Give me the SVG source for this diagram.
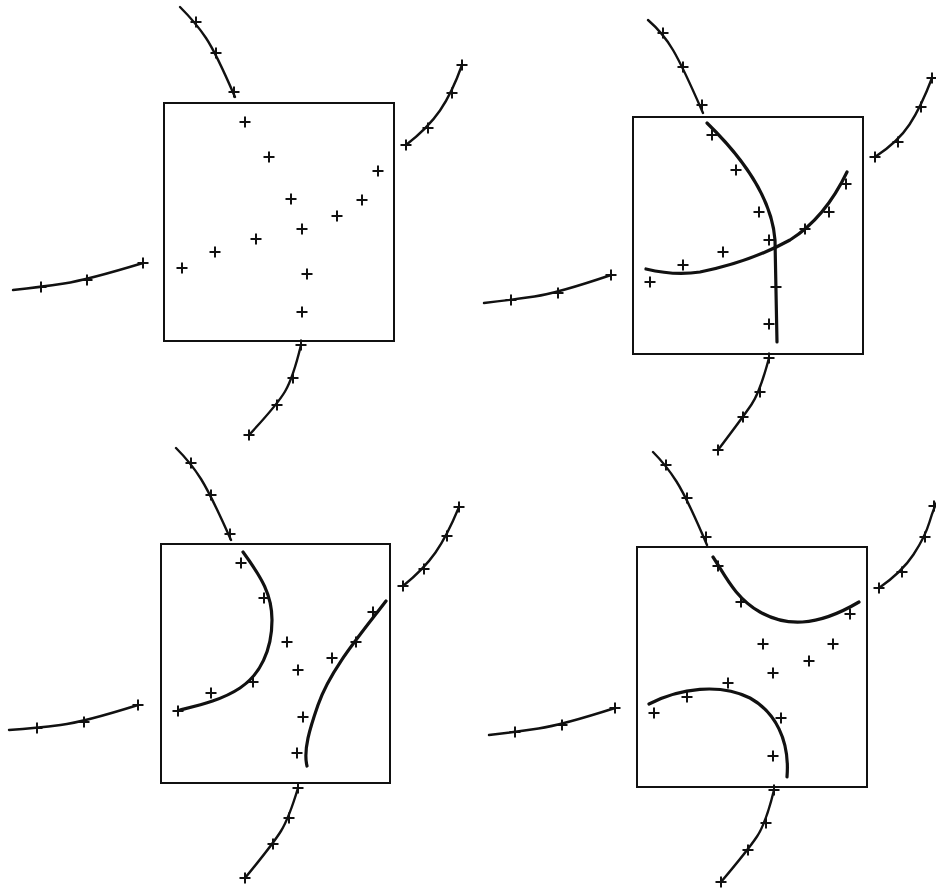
<svg xmlns="http://www.w3.org/2000/svg" xmlns:xlink="http://www.w3.org/1999/xlink" width="936" height="888" viewBox="0 0 936 888">
<style>
.box{fill:none;stroke:#111;stroke-width:2}
.ant{fill:none;stroke:#111;stroke-width:2.4;stroke-linecap:round}
.fit{fill:none;stroke:#111;stroke-width:3.2;stroke-linecap:round}
.pt{stroke:#111;stroke-width:2;fill:none}
</style>
<defs>
<path id="p" d="M-5.5,0H5.5M0,-5.5V5.5"/>
</defs>
<rect width="936" height="888" fill="#fff"/>
<g id="panel1">
<rect class="box" x="164" y="103" width="230" height="238"/>
<g id="panel1-lines">
<path class="ant" d="M180,7 Q196,23 206,38 Q216,53 235,97"/>
<path class="ant" d="M462,65 Q452,93 440,110.5 Q428,128 406,145"/>
<path class="ant" d="M13,290 Q41,287 64,283.5 Q87,280 143,263"/>
<path class="ant" d="M301,345 Q293,378 285,391.5 Q277,405 249,435"/>
</g>
<g class="pt">
<use xlink:href="#p" x="196" y="22"/><use xlink:href="#p" x="216" y="53"/><use xlink:href="#p" x="234" y="92"/>
<use xlink:href="#p" x="462" y="65"/><use xlink:href="#p" x="452" y="93"/><use xlink:href="#p" x="428" y="128"/><use xlink:href="#p" x="406" y="145"/>
<use xlink:href="#p" x="41" y="287"/><use xlink:href="#p" x="87" y="280"/><use xlink:href="#p" x="143" y="263"/>
<use xlink:href="#p" x="301" y="345"/><use xlink:href="#p" x="293" y="378"/><use xlink:href="#p" x="277" y="405"/><use xlink:href="#p" x="249" y="435"/>
<use xlink:href="#p" x="245" y="122"/><use xlink:href="#p" x="269" y="157"/><use xlink:href="#p" x="291" y="199"/><use xlink:href="#p" x="302" y="229"/>
<use xlink:href="#p" x="378" y="171"/><use xlink:href="#p" x="362" y="200"/><use xlink:href="#p" x="337" y="216"/><use xlink:href="#p" x="256" y="239"/>
<use xlink:href="#p" x="215" y="252"/><use xlink:href="#p" x="182" y="268"/><use xlink:href="#p" x="307" y="274"/><use xlink:href="#p" x="302" y="312"/>
</g>
</g>
<g id="panel2">
<rect class="box" x="633" y="117" width="230" height="237"/>
<g id="panel2-lines">
<path class="ant" d="M648,20 Q663,33 673,50 Q683,67 703,113"/>
<path class="ant" d="M932,78 Q921,107 909.5,124.5 Q898,142 875,157"/>
<path class="ant" d="M484,303 Q511,300 534.5,296.5 Q558,293 611,275"/>
<path class="ant" d="M769,358 Q760,392 751.5,404.5 Q743,417 718,450"/>
<path class="fit" d="M707,123 C745,160 772,200 775,240 L777,342"/>
<path class="fit" d="M646,269 Q675,276 700,272 Q750,262 790,240 Q825,218 847,172"/>
</g>
<g class="pt">
<use xlink:href="#p" x="663" y="33"/><use xlink:href="#p" x="683" y="67"/><use xlink:href="#p" x="702" y="105"/>
<use xlink:href="#p" x="932" y="78"/><use xlink:href="#p" x="921" y="107"/><use xlink:href="#p" x="898" y="142"/><use xlink:href="#p" x="875" y="157"/>
<use xlink:href="#p" x="511" y="300"/><use xlink:href="#p" x="558" y="293"/><use xlink:href="#p" x="611" y="275"/>
<use xlink:href="#p" x="769" y="358"/><use xlink:href="#p" x="760" y="392"/><use xlink:href="#p" x="743" y="417"/><use xlink:href="#p" x="718" y="450"/>
<use xlink:href="#p" x="712" y="135"/><use xlink:href="#p" x="736" y="170"/><use xlink:href="#p" x="759" y="212"/><use xlink:href="#p" x="769" y="240"/>
<use xlink:href="#p" x="723" y="252"/><use xlink:href="#p" x="683" y="265"/><use xlink:href="#p" x="650" y="282"/><use xlink:href="#p" x="805" y="229"/>
<use xlink:href="#p" x="829" y="212"/><use xlink:href="#p" x="846" y="184"/><use xlink:href="#p" x="776" y="287"/><use xlink:href="#p" x="769" y="324"/>
</g>
</g>
<g id="panel3">
<rect class="box" x="161" y="544" width="229" height="239"/>
<g id="panel3-lines">
<path class="ant" d="M176,448 Q191,463 201,479 Q211,495 231,540"/>
<path class="ant" d="M459,507 Q447,536 435.5,552.5 Q424,569 403,586"/>
<path class="ant" d="M9,730 Q37,728 60.5,725 Q84,722 138,705"/>
<path class="ant" d="M298,788 Q289,818 281,831 Q273,844 245,878"/>
<path class="fit" d="M243,552 C262,578 272,595 272,620 C272,650 260,675 240,688 C222,700 200,705 180,710"/>
<path class="fit" d="M386,601 C360,635 330,670 318,705 C310,728 303,750 307,766"/>
</g>
<g class="pt">
<use xlink:href="#p" x="191" y="463"/><use xlink:href="#p" x="211" y="495"/><use xlink:href="#p" x="230" y="534"/>
<use xlink:href="#p" x="459" y="507"/><use xlink:href="#p" x="447" y="536"/><use xlink:href="#p" x="424" y="569"/><use xlink:href="#p" x="403" y="586"/>
<use xlink:href="#p" x="37" y="728"/><use xlink:href="#p" x="84" y="722"/><use xlink:href="#p" x="138" y="705"/>
<use xlink:href="#p" x="298" y="788"/><use xlink:href="#p" x="289" y="818"/><use xlink:href="#p" x="273" y="844"/><use xlink:href="#p" x="245" y="878"/>
<use xlink:href="#p" x="241" y="563"/><use xlink:href="#p" x="264" y="598"/><use xlink:href="#p" x="287" y="642"/><use xlink:href="#p" x="298" y="670"/>
<use xlink:href="#p" x="332" y="658"/><use xlink:href="#p" x="356" y="642"/><use xlink:href="#p" x="373" y="612"/><use xlink:href="#p" x="253" y="682"/>
<use xlink:href="#p" x="211" y="693"/><use xlink:href="#p" x="178" y="711"/><use xlink:href="#p" x="303" y="717"/><use xlink:href="#p" x="297" y="753"/>
</g>
</g>
<g id="panel4">
<rect class="box" x="637" y="547" width="230" height="240"/>
<g id="panel4-lines">
<path class="ant" d="M653,452 Q666,465 676.5,481.5 Q687,498 707,545"/>
<path class="ant" d="M938,500 Q934,507 929.5,522 Q925,537 913.5,554.5 Q902,572 879,588"/>
<path class="ant" d="M489,735 Q515,732 538.5,728.5 Q562,725 615,708"/>
<path class="ant" d="M774,790 Q766,823 757,836.5 Q748,850 721,882"/>
<path class="fit" d="M713,557 C725,575 735,598 760,612 C785,626 815,628 859,602"/>
<path class="fit" d="M649,704 C680,688 720,683 750,698 C775,712 790,740 787,777"/>
</g>
<g class="pt">
<use xlink:href="#p" x="666" y="465"/><use xlink:href="#p" x="687" y="498"/><use xlink:href="#p" x="706" y="537"/>
<use xlink:href="#p" x="934" y="506"/><use xlink:href="#p" x="925" y="537"/><use xlink:href="#p" x="902" y="572"/><use xlink:href="#p" x="879" y="588"/>
<use xlink:href="#p" x="515" y="732"/><use xlink:href="#p" x="562" y="725"/><use xlink:href="#p" x="615" y="708"/>
<use xlink:href="#p" x="774" y="790"/><use xlink:href="#p" x="766" y="823"/><use xlink:href="#p" x="748" y="850"/><use xlink:href="#p" x="721" y="882"/>
<use xlink:href="#p" x="718" y="566"/><use xlink:href="#p" x="741" y="602"/><use xlink:href="#p" x="850" y="614"/><use xlink:href="#p" x="763" y="644"/>
<use xlink:href="#p" x="833" y="644"/><use xlink:href="#p" x="809" y="661"/><use xlink:href="#p" x="773" y="673"/><use xlink:href="#p" x="728" y="683"/>
<use xlink:href="#p" x="687" y="697"/><use xlink:href="#p" x="654" y="713"/><use xlink:href="#p" x="781" y="718"/><use xlink:href="#p" x="773" y="756"/>
</g>
</g>
</svg>
